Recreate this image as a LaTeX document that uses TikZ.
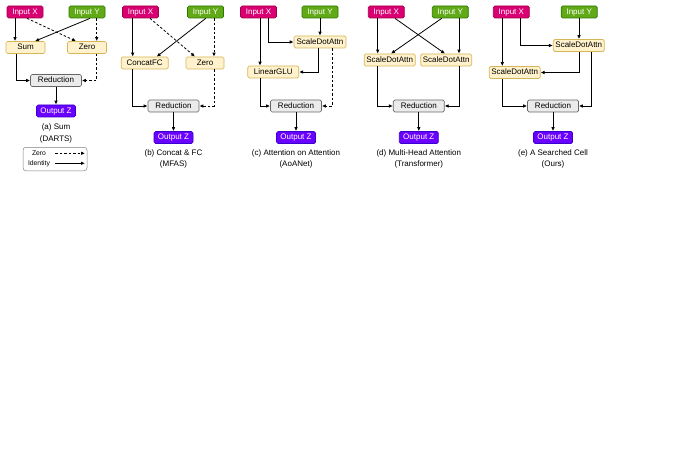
\documentclass[tikz,border=0pt]{standalone}
\usepackage{fontspec}
\setmainfont{Liberation Sans}
\usetikzlibrary{arrows.meta}
\definecolor{xfill}{HTML}{D80073}\definecolor{xdraw}{HTML}{A50040}
\definecolor{yfill}{HTML}{60A917}\definecolor{ydraw}{HTML}{2D7600}
\definecolor{zfill}{HTML}{6A00FF}\definecolor{zdraw}{HTML}{3700CC}
\definecolor{opfill}{HTML}{FFF2CC}\definecolor{opdraw}{HTML}{D6B656}
\definecolor{rdfill}{HTML}{EBEBEB}\definecolor{rddraw}{HTML}{666666}
\begin{document}
\begin{tikzpicture}[x=1pt,y=-1pt,
  font=\fontsize{8}{9.5}\selectfont,
  box/.style={draw, rounded corners=1.5pt, inner sep=0pt, line width=0.7pt, minimum height=12pt, text height=5.8pt, text depth=1.6pt},
  inx/.style={box, fill=xfill, draw=xdraw, text=white, minimum width=36pt},
  iny/.style={box, fill=yfill, draw=ydraw, text=white, minimum width=36pt},
  outz/.style={box, fill=zfill, draw=zdraw, text=white, minimum width=39pt},
  opbox/.style={box, fill=opfill, draw=opdraw, minimum width=51pt},
  redbox/.style={box, fill=rdfill, draw=rddraw, minimum width=51pt},
  captxt/.style={inner sep=0pt},
  conn/.style={line width=0.8pt, -{Latex[length=4pt,width=3.6pt]}},
  zconn/.style={conn, dash pattern=on 2.5pt off 2pt},
  legendbox/.style={draw=gray, rounded corners=3pt, line width=0.5pt, minimum width=64pt, minimum height=23.5pt, inner sep=0pt}
]
\useasboundingbox (0,0) rectangle (674,476);

% ---------- (a) Sum ----------
\node[inx] (aX) at (25,12) {Input X};
\node[iny] (aY) at (87,12) {Input Y};
\node[opbox, minimum width=39pt] (aS) at (25.5,47.5) {Sum};
\node[opbox, minimum width=39pt] (aZ) at (87,47.5) {Zero};
\node[redbox] (aR) at (56,80.5) {Reduction};
\node[outz] (aO) at (56,111) {Output Z};
\node[captxt] (aC1) at (56,127.5) {(a) Sum};
\node[captxt] (aC2) at (56,139) {(DARTS)};
\draw[conn] (aX.south -| 15,0) -- (aS.north -| 15,0);
\draw[zconn] (aX.south -| 27,0) -- (aZ.north -| 76,0);
\draw[conn] (aY.south -| 90,0) -- (aS.north -| 35,0);
\draw[zconn] (aY.south -| 96.7,0) -- (aZ.north -| 96.7,0);
\draw[conn] (aS.south -| 16,0) |- (aR.west);
\draw[zconn] (aZ.south -| 96.7,0) |- (aR.east);
\draw[conn] (aR) -- (aO);
% legend
\node[legendbox] (lg) at (55,159) {};
\node[captxt, font=\fontsize{6.8}{8}\selectfont] (lz) at (39,153.3) {Zero};
\node[captxt, font=\fontsize{6.8}{8}\selectfont] (li) at (39,163.3) {Identity};
\coordinate (lz1) at (55,153.3); \coordinate (lz2) at (85,153.3);
\coordinate (li1) at (55,163.3); \coordinate (li2) at (85,163.3);
\draw[zconn] (lz1) -- (lz2);
\draw[conn] (li1) -- (li2);

% ---------- (b) Concat & FC ----------
\node[inx] (bX) at (140.5,12) {Input X};
\node[iny] (bY) at (205.5,12) {Input Y};
\node[opbox, minimum width=47pt] (bC) at (144.7,63) {ConcatFC};
\node[opbox, minimum width=38pt] (bZ) at (205,63) {Zero};
\node[redbox] (bR) at (173.5,106) {Reduction};
\node[outz] (bO) at (173.5,137.5) {Output Z};
\node[captxt] (bC1) at (173.5,153) {(b) Concat \& FC};
\node[captxt] (bC2) at (173.5,164.5) {(MFAS)};
\draw[conn] (bX.south -| 132.7,0) -- (bC.north -| 132.7,0);
\draw[zconn] (bX.south -| 150,0) -- (bZ.north -| 195,0);
\draw[conn] (bY.south -| 205.7,0) -- (bC.north -| 156.7,0);
\draw[zconn] (bY.south -| 214,0) -- (bZ.north -| 214,0);
\draw[conn] (bC.south -| 132.7,0) |- (bR.west);
\draw[zconn] (bZ.south -| 214,0) |- (bR.east);
\draw[conn] (bR) -- (bO);

% ---------- (c) Attention on Attention ----------
\node[inx] (cX) at (258.5,12) {Input X};
\node[iny] (cY) at (320,12) {Input Y};
\node[opbox, minimum width=52pt] (cA) at (320,42) {ScaleDotAttn};
\node[opbox] (cG) at (273.3,72) {LinearGLU};
\node[redbox] (cR) at (296,106) {Reduction};
\node[outz] (cO) at (296,137.5) {Output Z};
\node[captxt] (cC1) at (296,153) {(c) Attention on Attention};
\node[captxt] (cC2) at (296,164.5) {(AoANet)};
\draw[conn] (cX.south -| 260,0) -- (cG.north -| 260,0);
\draw[conn] (cX.south -| 268.3,0) |- (cA.west);
\draw[conn] (cY) -- (cA);
\draw[conn] (cA.south -| 318.3,0) |- (cG.east);
\draw[zconn] (cA.south -| 332.7,0) |- (cR.east);
\draw[conn] (cG.south -| 260.7,0) |- (cR.west);
\draw[conn] (cR) -- (cO);

% ---------- (d) Multi-Head Attention ----------
\node[inx] (dX) at (386.3,12) {Input X};
\node[iny] (dY) at (450.3,12) {Input Y};
\node[opbox] (dA1) at (389.7,60) {ScaleDotAttn};
\node[opbox] (dA2) at (446.2,60) {ScaleDotAttn};
\node[redbox] (dR) at (418.8,106) {Reduction};
\node[outz] (dO) at (418.8,137.5) {Output Z};
\node[captxt] (dC1) at (418.8,153) {(d) Multi-Head Attention};
\node[captxt] (dC2) at (418.8,164.5) {(Transformer)};
\draw[conn] (dX.south -| 377.7,0) -- (dA1.north -| 377.7,0);
\draw[conn] (dX.south -| 395,0) -- (dA2.north -| 445,0);
\draw[conn] (dY.south -| 441.7,0) -- (dA1.north -| 391,0);
\draw[conn] (dY.south -| 459,0) -- (dA2.north -| 459,0);
\draw[conn] (dA1.south -| 377.7,0) |- (dR.west);
\draw[conn] (dA2.south -| 459,0) |- (dR.east);
\draw[conn] (dR) -- (dO);

% ---------- (e) A Searched Cell ----------
\node[inx] (eX) at (511.3,12) {Input X};
\node[iny] (eY) at (579.2,12) {Input Y};
\node[opbox] (eA) at (578.8,45.5) {ScaleDotAttn};
\node[opbox] (eB) at (514.7,72.5) {ScaleDotAttn};
\node[redbox] (eR) at (553,106) {Reduction};
\node[outz] (eO) at (553,137.5) {Output Z};
\node[captxt] (eC1) at (553,153) {(e) A Searched Cell};
\node[captxt] (eC2) at (553,164.5) {(Ours)};
\draw[conn] (eX.south -| 502.3,0) -- (eB.north -| 502.3,0);
\draw[conn] (eX.south -| 520,0) |- (eA.west);
\draw[conn] (eY.south -| 579,0) -- (eA.north -| 579,0);
\draw[conn] (eA.south -| 579,0) |- (eB.east);
\draw[conn] (eA.south -| 591.5,0) |- (eR.east);
\draw[conn] (eB.south -| 502.3,0) |- (eR.west);
\draw[conn] (eR) -- (eO);
\end{tikzpicture}
\end{document}
